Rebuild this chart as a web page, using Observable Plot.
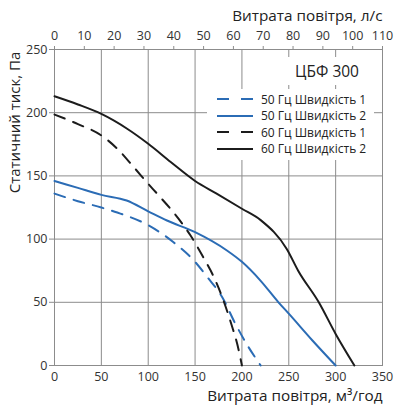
<!DOCTYPE html>
<html>
<head>
<meta charset="utf-8">
<script src="https://cdn.jsdelivr.net/npm/d3@7"></script>
<script src="https://cdn.jsdelivr.net/npm/@observablehq/plot@0.6"></script>
<style>
  body { margin: 0; background: #fff; }
  #wrap { position: relative; width: 400px; height: 408px; font-family: "Open Sans", sans-serif; color: #222; }
  #model { position: absolute; left: 280px; top: 57px; width: 94px; height: 28px; background: #fff;
           font-size: 15.5px; line-height: 28px; text-align: right; box-sizing: border-box; padding-right: 15px; }
  #legend { position: absolute; left: 207px; top: 89px; width: 167px; height: 71px; background: #fff; font-size: 12px; }
  #legend .row { position: absolute; left: 10px; height: 16px; display: flex; align-items: center; white-space: nowrap; }
  #legend svg { margin-right: 8px; }
</style>
</head>
<body>
<div id="wrap"></div>
<script>
// Air flow (m³/h) and static pressure (Pa) for each fan curve
const flow50Hz1 = [0, 25, 50, 67, 100, 127, 150, 163, 179, 193, 205, 220];
const pres50Hz1 = [136, 130, 125, 121, 111, 97.5, 82, 70, 54, 33, 17, 0];

const flow50Hz2 = [0, 25, 50, 77, 100, 120, 150, 184, 200, 220, 239, 250, 275, 300];
const pres50Hz2 = [146, 140.5, 135, 130.5, 122, 114.7, 105.5, 91, 82, 67, 50, 41, 20, 0];

const flow60Hz1 = [0, 25, 50, 67, 84.5, 100, 110, 132.5, 145, 160, 170, 179, 189, 195, 200];
const pres60Hz1 = [198.5, 191, 182, 171.5, 157, 143.7, 135.5, 116, 103, 84, 70, 54, 32, 17, 0];

const flow60Hz2 = [0, 25, 50, 77.5, 100, 124, 150, 173, 200, 220, 248, 260, 282, 300, 320];
const pres60Hz2 = [213, 206.5, 199, 187.3, 175.4, 161, 146, 136, 124, 115, 92, 75, 50, 25, 0];

const seriesNames = ["50 Гц Швидкість 1", "50 Гц Швидкість 2", "60 Гц Швидкість 1", "60 Гц Швидкість 2"];
const seriesColors = ["#2b6cb5", "#2b6cb5", "#1c1c1c", "#1c1c1c"];
const seriesDashed = [true, false, true, false];

const m3hTicks = [0, 50, 100, 150, 200, 250, 300, 350];
const lsTicks = [0, 10, 20, 30, 40, 50, 60, 70, 80, 90, 100, 110];
const paTicks = [0, 50, 100, 150, 200, 250];

const xMax = 350, lsMax = 110;
const modelName = "ЦБФ 300";
const titleTop = "Витрата повітря, л/с";
const titleBottom = "Витрата повітря, м³/год";
const titleLeft = "Статичний тиск, Па";

const flows = [flow50Hz1, flow50Hz2, flow60Hz1, flow60Hz2];
const pressures = [pres50Hz1, pres50Hz2, pres60Hz1, pres60Hz2];
const rows = flows.flatMap((f, s) => f.map((q, i) => ({series: s, q, p: pressures[s][i]})));

const grid = "#8c8c8c";
const dash = "11,9";

const chart = Plot.plot({
  width: 400,
  height: 408,
  marginLeft: 54,
  marginRight: 18,
  marginTop: 49,
  marginBottom: 43,
  style: {fontFamily: "'Open Sans', sans-serif", fontSize: "12.5px", color: "#333", background: "#fff"},
  x: {domain: [0, xMax]},
  y: {domain: [0, 250]},
  marks: [
    Plot.gridX(m3hTicks.slice(1, -1), {stroke: grid, strokeOpacity: 1}),
    Plot.gridY(paTicks.slice(1, -1), {stroke: grid, strokeOpacity: 1}),
    Plot.frame({stroke: grid}),
    Plot.axisY(paTicks, {tickSize: 5, tickPadding: 2, stroke: grid, label: null}),
    Plot.axisX(m3hTicks, {tickSize: 0, tickPadding: 7, label: null}),
    Plot.axisX(lsTicks.map(v => v * xMax / lsMax), {
      anchor: "top", tickSize: 4, tickPadding: 6, stroke: grid, label: null,
      tickFormat: (d, i) => lsTicks[i]
    }),
    ...flows.map((_, s) => Plot.line(rows.filter(r => r.series === s), {
      x: "q", y: "p", curve: "monotone-x",
      stroke: seriesColors[s], strokeWidth: 2,
      strokeDasharray: seriesDashed[s] ? dash : null
    })),
    Plot.text([titleTop], {text: d => d, frameAnchor: "top-right", textAnchor: "end", dy: -39, fontSize: 15.3, fill: "#222"}),
    Plot.text([titleBottom], {text: d => d, frameAnchor: "bottom-right", textAnchor: "end", dy: 35, fontSize: 15.3, fill: "#222"}),
    Plot.text([titleLeft], {text: d => d, frameAnchor: "left", textAnchor: "middle", rotate: -90, dx: -39, dy: -85, fontSize: 15, fill: "#222"})
  ]
});

const wrap = document.getElementById("wrap");
wrap.appendChild(chart);

const model = document.createElement("div");
model.id = "model";
model.textContent = modelName;
wrap.appendChild(model);

const legend = document.createElement("div");
legend.id = "legend";
seriesNames.forEach((name, s) => {
  const row = document.createElement("div");
  row.className = "row";
  row.style.top = (2 + s * 16.5) + "px";
  row.innerHTML = `<svg width="36" height="4"><line x1="0" x2="36" y1="2" y2="2" stroke="${seriesColors[s]}" stroke-width="2" ${seriesDashed[s] ? 'stroke-dasharray="12,12"' : ""}/></svg><span>${name}</span>`;
  legend.appendChild(row);
});
wrap.appendChild(legend);
</script>
</body>
</html>
